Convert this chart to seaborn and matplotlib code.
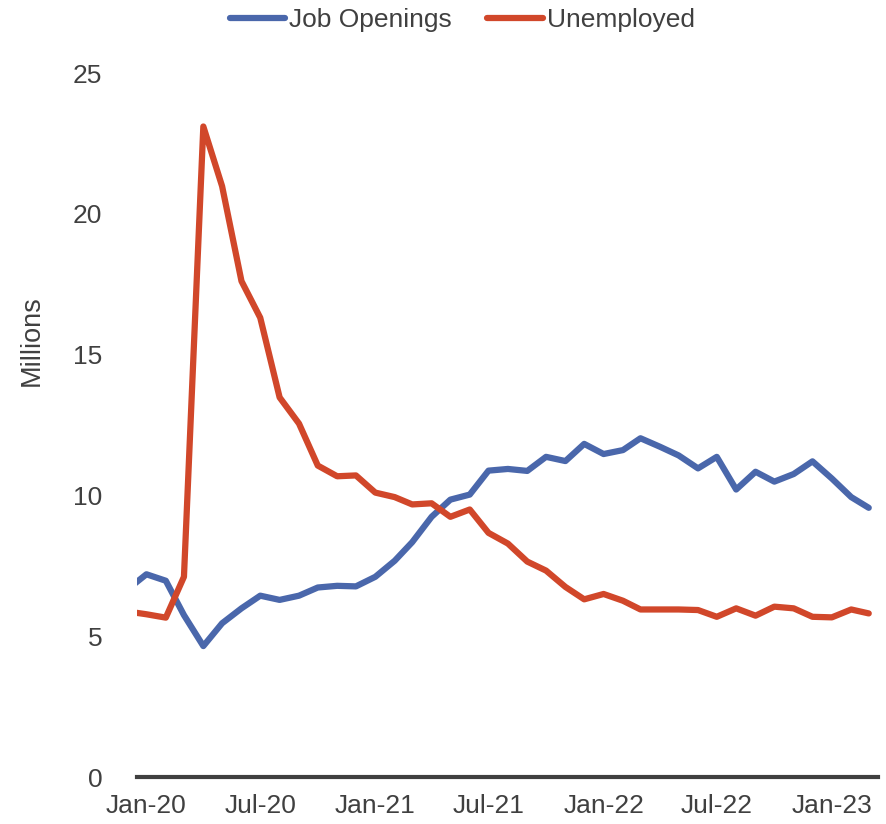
import pandas as pd
import seaborn as sns
import matplotlib.pyplot as plt
import matplotlib.dates as mdates

# Monthly data, Dec-19 .. Mar-23 (Dec-19 sits just left of the axis and is clipped)
months = pd.date_range('2019-12-01', '2023-03-01', freq='MS')
job_openings = [6.65,
                7.20, 6.97, 5.75, 4.65, 5.46, 5.99, 6.44, 6.29, 6.44, 6.73, 6.79, 6.77,
                7.11, 7.68, 8.34, 9.24, 9.85, 10.03, 10.88, 10.94, 10.87, 11.37, 11.22, 11.83,
                11.47, 11.61, 12.03, 11.73, 11.42, 10.96, 11.37, 10.21, 10.84, 10.49, 10.76, 11.21,
                10.60, 9.94, 9.56]
unemployed = [5.88,
              5.78, 5.66, 7.11, 23.10, 20.98, 17.61, 16.31, 13.48, 12.55, 11.06, 10.68, 10.71,
              10.10, 9.94, 9.68, 9.72, 9.24, 9.50, 8.67, 8.29, 7.65, 7.33, 6.75, 6.31,
              6.50, 6.26, 5.95, 5.95, 5.95, 5.93, 5.69, 5.99, 5.73, 6.05, 5.99, 5.69,
              5.67, 5.95, 5.81]
series_names = ['Job Openings', 'Unemployed']
y_ticks = [0, 5, 10, 15, 20, 25]
x_ticks = pd.date_range('2020-01-01', '2023-01-01', freq='6MS')

df = pd.DataFrame({'month': months,
                   'Job Openings': job_openings,
                   'Unemployed': unemployed})
df_long = pd.melt(df, id_vars='month', var_name='series', value_name='value')

sns.set_style('white')
plt.rcParams['font.family'] = ['Liberation Sans', 'DejaVu Sans']
text_color = '#404040'

fig = plt.figure(figsize=(8.87, 8.24), dpi=100)
ax = fig.add_axes([0.1545, 0.057, 0.8355, 0.8544])

sns.lineplot(data=df_long, x='month', y='value', hue='series', hue_order=series_names,
             palette=['#4A67AB', '#D1472A'], linewidth=4.5, ax=ax,
             solid_capstyle='round', solid_joinstyle='round', legend=False)

ax.set_xlim(pd.Timestamp('2019-12-17'), pd.Timestamp('2023-03-16'))
ax.set_ylim(0, 25)
ax.set_yticks(y_ticks)
ax.set_xticks(x_ticks)
ax.xaxis.set_major_formatter(mdates.DateFormatter('%b-%y'))
ax.tick_params(axis='both', length=0, labelsize=19, colors=text_color)
ax.tick_params(axis='y', pad=25)
ax.tick_params(axis='x', pad=12)

for side in ['left', 'right', 'top']:
    ax.spines[side].set_visible(False)
ax.spines['bottom'].set_color(text_color)
ax.spines['bottom'].set_linewidth(3)

ax.set_xlabel('')
ax.set_ylabel('Millions', fontsize=19.5, color=text_color)
ax.yaxis.set_label_coords(-0.125, 0.62)

handles = [plt.Line2D([], [], color=c, linewidth=4.5, solid_capstyle='round')
           for c in ['#4A67AB', '#D1472A']]
fig.legend(handles, series_names, loc='center', bbox_to_anchor=(0.521, 0.976), ncol=2,
           frameon=False, fontsize=19, labelcolor=text_color,
           handlelength=2.1, handletextpad=0.15, columnspacing=1.35)

fig.savefig('out.png', dpi=100)
